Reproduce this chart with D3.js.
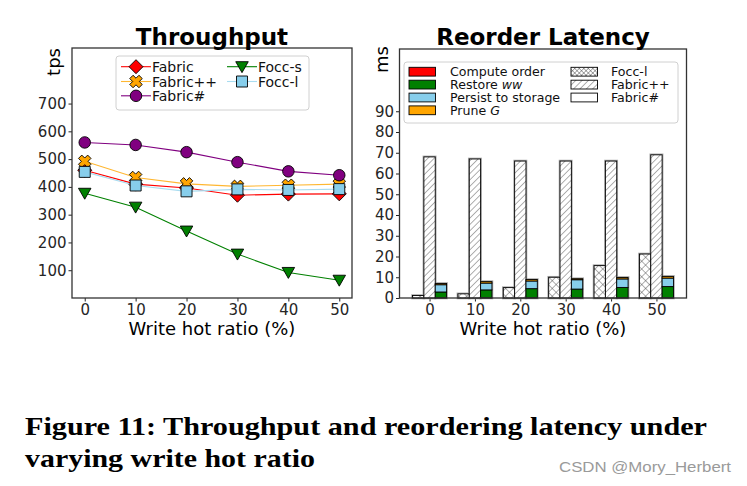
<!DOCTYPE html>
<html>
<head>
<meta charset="utf-8">
<script src="https://cdn.jsdelivr.net/npm/d3@7"></script>
<style>
  html, body { margin: 0; padding: 0; background: #fff; }
  svg { display: block; font-family: "DejaVu Sans", sans-serif; }
  .cap { font-family: "Liberation Serif", "Times New Roman", Times, serif; }
</style>
</head>
<body>
<svg id="chart" width="747" height="486"></svg>
<script>
// ---------- Data ----------
const writeHotRatio = [0, 10, 20, 30, 40, 50];
const tpsTicks = [100, 200, 300, 400, 500, 600, 700];
const msTicks = [0, 10, 20, 30, 40, 50, 60, 70, 80, 90];

// Throughput (tps)
const tpsFabric      = [460, 410, 396, 370, 374, 375];
const tpsFabricPP    = [492, 434, 411, 402, 406, 410];
const tpsFabricSharp = [560, 551, 525, 489, 456, 442];
const tpsFoccS       = [377, 327, 241, 158, 92, 64];
const tpsFoccL       = [454, 405, 384, 391, 389, 392];

// Reorder latency (ms)
const latFoccL    = [1.2, 2.0, 5.0, 10.0, 15.6, 21.2];
const latFabricPP = [68, 67, 66, 66, 66, 69];
// Fabric# breakdown (stacked)
const computeOrder = [0.1, 0.1, 0.1, 0.1, 0.1, 0.1];
const restoreWW    = [2.8, 3.8, 4.4, 4.2, 5.0, 5.4];
const persistStore = [3.5, 3.3, 3.7, 4.5, 4.1, 4.1];
const pruneG       = [0.6, 0.7, 0.7, 0.5, 0.7, 0.8];

// ---------- Setup ----------
const svg = d3.select("#chart");
const defs = svg.append("defs");

function makeHatch(id, cross, size) {
  const p = defs.append("pattern").attr("id", id)
    .attr("patternUnits", "userSpaceOnUse")
    .attr("width", size).attr("height", size)
    .attr("patternTransform", "rotate(45)");
  p.append("rect").attr("width", size).attr("height", size).attr("fill", "#fff");
  p.append("line").attr("x1", 0).attr("y1", 0).attr("x2", 0).attr("y2", size)
    .attr("stroke", "#444").attr("stroke-width", 0.85);
  if (cross) {
    p.append("line").attr("x1", 0).attr("y1", 0).attr("x2", size).attr("y2", 0)
      .attr("stroke", "#444").attr("stroke-width", 0.85);
  }
}
makeHatch("diag", false, 4.5);
makeHatch("cross", true, 5.5);
makeHatch("crossDense", true, 3.2);

// ---------- Left: Throughput ----------
const L = { x0: 72, x1: 352, y0: 48, y1: 298 };
const xL = d3.scaleLinear().domain([-2.5, 52.5]).range([L.x0, L.x1]);
const yL = d3.scaleLinear().domain([0, 900]).range([L.y1, L.y0]);

function styleAxis(g) {
  g.selectAll("path").remove();
  g.selectAll("line").attr("stroke", "#222").attr("stroke-width", 1);
  g.selectAll("text").attr("font-size", 15).attr("fill", "#262626")
    .style("font-family", "'DejaVu Sans', sans-serif");
}

svg.append("g").attr("transform", `translate(0,${L.y1})`)
  .call(d3.axisBottom(xL).tickValues(writeHotRatio).tickSize(3.5).tickPadding(3))
  .call(styleAxis);
svg.append("g").attr("transform", `translate(${L.x0},0)`)
  .call(d3.axisLeft(yL).tickValues(tpsTicks).tickSize(3.5).tickPadding(2))
  .call(styleAxis);

function markerPath(type, s) {
  const h = s / 2;
  switch (type) {
    case "diamond": return `M0,${-h}L${h},0L0,${h}L${-h},0Z`;
    case "square": return `M${-h},${-h}H${h}V${h}H${-h}Z`;
    case "tri": return `M${-h},${-h * 0.8}L${h},${-h * 0.8}L0,${h * 0.95}Z`;
    case "circle": return d3.arc()({innerRadius: 0, outerRadius: h, startAngle: 0, endAngle: 2 * Math.PI});
    case "x": {
      const a = h, b = h * 0.36;
      const pts = [[-b, -a], [b, -a], [b, -b], [a, -b], [a, b], [b, b], [b, a], [-b, a], [-b, b], [-a, b], [-a, -b], [-b, -b]];
      const r = Math.SQRT1_2;
      return "M" + pts.map(([px, py]) => [(px - py) * r, (px + py) * r].map(v => v.toFixed(2)).join(",")).join("L") + "Z";
    }
  }
}

const seriesL = [
  { name: "Fabric",   vals: tpsFabric,      color: "#ff0000", line: "#ff0000", marker: "diamond", size: 14 },
  { name: "Fabric++", vals: tpsFabricPP,    color: "#ffa500", line: "#ffb732", marker: "x",       size: 13 },
  { name: "Fabric#",  vals: tpsFabricSharp, color: "#800080", line: "#800080", marker: "circle",  size: 11.5 },
  { name: "Focc-s",   vals: tpsFoccS,       color: "#008000", line: "#008000", marker: "tri",     size: 12.5 },
  { name: "Focc-l",   vals: tpsFoccL,       color: "#87ceeb", line: "#a9dcf0", marker: "square",  size: 11 }
];

const lineGen = d3.line().x((d, i) => xL(writeHotRatio[i])).y(d => yL(d));
const plotL = svg.append("g");
seriesL.forEach(s => {
  plotL.append("path").attr("d", lineGen(s.vals)).attr("fill", "none")
    .attr("stroke", s.line).attr("stroke-width", 1.1);
  plotL.selectAll(null).data(s.vals).enter().append("path")
    .attr("d", markerPath(s.marker, s.size))
    .attr("transform", (d, i) => `translate(${xL(writeHotRatio[i])},${yL(d)})`)
    .attr("fill", s.color).attr("stroke", "#000").attr("stroke-width", 0.9);
});

svg.append("rect").attr("x", L.x0).attr("y", L.y0)
  .attr("width", L.x1 - L.x0).attr("height", L.y1 - L.y0)
  .attr("fill", "none").attr("stroke", "#333").attr("stroke-width", 1.3);

// legend left
const lg = svg.append("g");
lg.append("rect").attr("x", 116).attr("y", 56).attr("width", 193).attr("height", 54)
  .attr("rx", 3).attr("fill", "#fff").attr("fill-opacity", 0.85)
  .attr("stroke", "#d0d0d0").attr("stroke-width", 1);
const legPosL = [
  { x: 121, y: 66.7 }, { x: 121, y: 81.5 }, { x: 121, y: 95.8 },
  { x: 227, y: 66.7 }, { x: 227, y: 81.5 }
];
seriesL.forEach((s, i) => {
  const p = legPosL[i];
  lg.append("line").attr("x1", p.x).attr("x2", p.x + 30).attr("y1", p.y).attr("y2", p.y)
    .attr("stroke", s.line).attr("stroke-width", 1.1);
  lg.append("path").attr("d", markerPath(s.marker, s.size))
    .attr("transform", `translate(${p.x + 15},${p.y})`)
    .attr("fill", s.color).attr("stroke", "#000").attr("stroke-width", 0.9);
  lg.append("text").attr("x", p.x + 31).attr("y", p.y + 5).attr("font-size", 14)
    .attr("fill", "#111").text(s.name);
});

svg.append("text").attr("x", (L.x0 + L.x1) / 2).attr("y", 45).attr("text-anchor", "middle")
  .attr("font-size", 23).attr("font-weight", "bold").attr("fill", "#000").text("Throughput");
svg.append("text").attr("transform", `translate(60,${L.y0}) rotate(-90)`)
  .attr("text-anchor", "end").attr("font-size", 18).attr("fill", "#000").text("tps");
svg.append("text").attr("x", (L.x0 + L.x1) / 2).attr("y", 335).attr("text-anchor", "middle")
  .attr("font-size", 18).attr("fill", "#000").text("Write hot ratio (%)");

// ---------- Right: Reorder latency ----------
const R = { x0: 399.5, x1: 686.5, y0: 49, y1: 298 };
const xR = d3.scaleLinear().domain([-0.6625, 5.6625]).range([R.x0, R.x1]);
const yR = d3.scaleLinear().domain([0, 120]).range([R.y1, R.y0]);
const bw = 0.25;

svg.append("g").attr("transform", `translate(0,${R.y1})`)
  .call(d3.axisBottom(xR).tickValues(d3.range(writeHotRatio.length))
    .tickFormat(i => writeHotRatio[i]).tickSize(3.5).tickPadding(3))
  .call(styleAxis);
svg.append("g").attr("transform", `translate(${R.x0},0)`)
  .call(d3.axisLeft(yR).tickValues(msTicks).tickSize(3.5).tickPadding(2))
  .call(styleAxis);

const plotR = svg.append("g");
function bar(g, xc, v0, v1, fill) {
  const x = xR(xc - bw / 2), w = xR(xc + bw / 2) - xR(xc - bw / 2);
  g.append("rect").attr("x", x).attr("y", yR(v1)).attr("width", w)
    .attr("height", Math.max(0, yR(v0) - yR(v1)))
    .attr("fill", fill).attr("stroke", "#000").attr("stroke-width", 0.9);
}
function halo(g, xc, v) {
  const x = xR(xc - bw / 2), w = xR(xc + bw / 2) - xR(xc - bw / 2);
  g.append("rect").attr("x", x).attr("y", yR(v)).attr("width", w)
    .attr("height", yR(0) - yR(v)).attr("fill", "none")
    .attr("stroke", "#aaa").attr("stroke-width", 2.6);
}
writeHotRatio.forEach((_, i) => {
  halo(plotR, i - bw, latFoccL[i]);
  halo(plotR, i, latFabricPP[i]);
  halo(plotR, i + bw, computeOrder[i] + restoreWW[i] + persistStore[i] + pruneG[i]);
});
writeHotRatio.forEach((_, i) => {
  bar(plotR, i - bw, 0, latFoccL[i], "url(#cross)");
  bar(plotR, i, 0, latFabricPP[i], "url(#diag)");
  const parts = [computeOrder[i], restoreWW[i], persistStore[i], pruneG[i]];
  const cols = ["#ff0000", "#008000", "#87ceeb", "#ffa500"];
  let acc = 0;
  parts.forEach((v, k) => { bar(plotR, i + bw, acc, acc + v, cols[k]); acc += v; });
});

svg.append("rect").attr("x", R.x0).attr("y", R.y0)
  .attr("width", R.x1 - R.x0).attr("height", R.y1 - R.y0)
  .attr("fill", "none").attr("stroke", "#333").attr("stroke-width", 1.3);

// legend right
const lr = svg.append("g");
lr.append("rect").attr("x", 404).attr("y", 62).attr("width", 274).attr("height", 61)
  .attr("rx", 3).attr("fill", "#fff").attr("fill-opacity", 0.85)
  .attr("stroke", "#d0d0d0").attr("stroke-width", 1);
const legR = [
  { label: ["Compute order"], fill: "#ff0000", col: 0, row: 0 },
  { label: ["Restore ", "ww"], fill: "#008000", col: 0, row: 1 },
  { label: ["Persist to storage"], fill: "#87ceeb", col: 0, row: 2 },
  { label: ["Prune ", "G"], fill: "#ffa500", col: 0, row: 3 },
  { label: ["Focc-l"], fill: "url(#crossDense)", col: 1, row: 0 },
  { label: ["Fabric++"], fill: "url(#diag)", col: 1, row: 1 },
  { label: ["Fabric#"], fill: "#fff", col: 1, row: 2 }
];
const rowY = [71.7, 84.6, 97.5, 110.3];
const colX = [{ p: 409, t: 450 }, { p: 571, t: 611 }];
legR.forEach(e => {
  const px = colX[e.col].p, tx = colX[e.col].t, cy = rowY[e.row];
  lr.append("rect").attr("x", px).attr("y", cy - 4.4).attr("width", 26.5).attr("height", 8.8)
    .attr("fill", e.fill).attr("stroke", "#000").attr("stroke-width", 0.9);
  const t = lr.append("text").attr("x", tx).attr("y", cy + 4.3).attr("font-size", 12.6).attr("fill", "#111");
  t.append("tspan").text(e.label[0]);
  if (e.label[1]) t.append("tspan").attr("font-style", "italic").text(e.label[1]);
});

svg.append("text").attr("x", (R.x0 + R.x1) / 2).attr("y", 45).attr("text-anchor", "middle")
  .attr("font-size", 23).attr("font-weight", "bold").attr("fill", "#000").text("Reorder Latency");
svg.append("text").attr("transform", `translate(388,46) rotate(-90)`)
  .attr("text-anchor", "end").attr("font-size", 18).attr("fill", "#000").text("ms");
svg.append("text").attr("x", (R.x0 + R.x1) / 2).attr("y", 335).attr("text-anchor", "middle")
  .attr("font-size", 18).attr("fill", "#000").text("Write hot ratio (%)");

// ---------- Caption ----------
svg.append("text").attr("class", "cap").attr("x", 25).attr("y", 435)
  .attr("font-weight", "bold").attr("font-size", 26)
  .attr("textLength", 682).attr("lengthAdjust", "spacingAndGlyphs").attr("fill", "#000")
  .text("Figure 11: Throughput and reordering latency under");
svg.append("text").attr("class", "cap").attr("x", 25).attr("y", 467)
  .attr("font-weight", "bold").attr("font-size", 26)
  .attr("textLength", 290).attr("lengthAdjust", "spacingAndGlyphs").attr("fill", "#000")
  .text("varying write hot ratio");
svg.append("text").attr("x", 559).attr("y", 472)
  .style("font-family", "'Liberation Sans', Arial, sans-serif").attr("font-size", 14)
  .attr("textLength", 172).attr("lengthAdjust", "spacingAndGlyphs").attr("fill", "#9a9a9a")
  .text("CSDN @Mory_Herbert");
</script>
</body>
</html>
